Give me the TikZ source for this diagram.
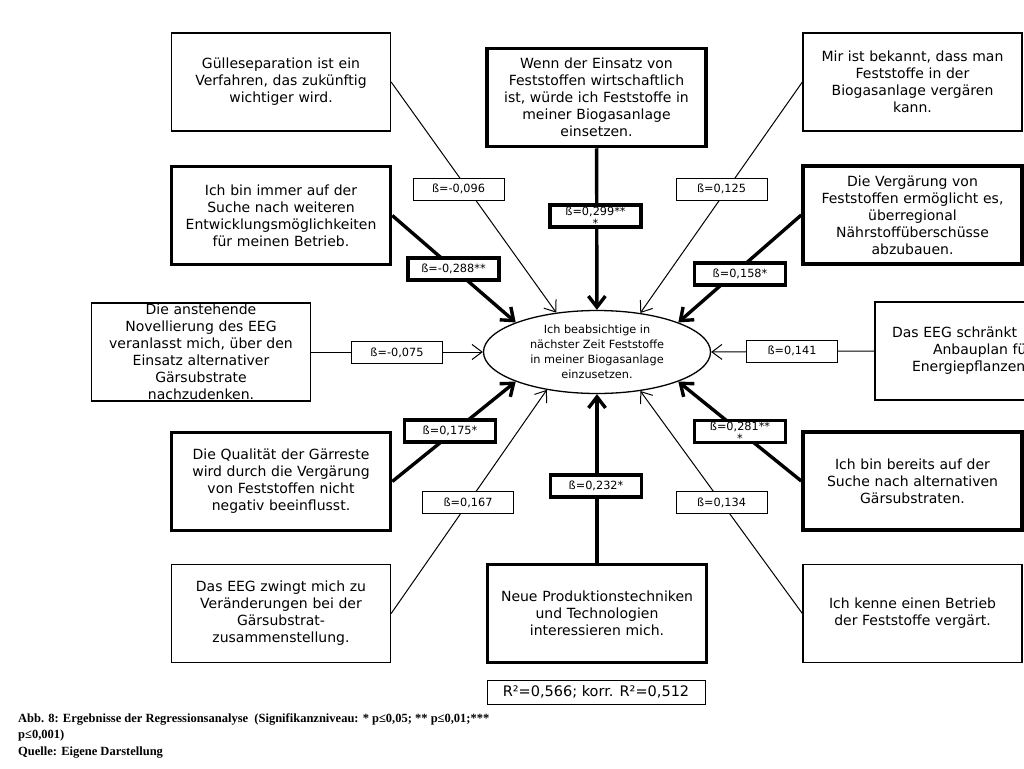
\documentclass[tikz,border=0pt]{standalone}
\usepackage{fontspec}
\setmainfont{DejaVu Sans}
\newfontfamily\captionfont{Liberation Serif}
\usetikzlibrary{shapes.geometric,arrows.meta}

\newcommand{\zweizeilen}[2]{\smash{\lower11pt\vbox{\baselineskip=12pt\halign{\hfil##\hfil\cr#1\cr#2\cr}}}}

\begin{document}
\begin{tikzpicture}[x=1pt,y=-1pt,
  box/.style={shape=rectangle, draw, line width=1.3pt, text width=205pt, inner xsep=7pt, inner ysep=0pt, minimum height=98pt, align=center, font=\fontsize{14}{17}\selectfont},
  boxthick/.style={box, line width=3.5pt},
  beta/.style={shape=rectangle, draw, fill=white, line width=1pt, minimum width=91pt, minimum height=22pt, inner sep=0pt, font=\fontsize{11.3}{13}\selectfont},
  betathick/.style={beta, line width=3.5pt},
  conn/.style={line width=1pt, -{Straight Barb[length=10pt,width=15pt]}},
  connthick/.style={line width=3.4pt, -{Straight Barb[length=11pt,width=17pt]}}]
\useasboundingbox (0,0) rectangle (1024,768);
\clip (0,0) rectangle (1024,768);

\node (Absicht) at (597,352) [shape=ellipse, draw, line width=1.3pt, minimum width=227pt, minimum height=83pt, inner sep=0pt, align=center, font=\fontsize{11.3}{15}\selectfont] {Ich beabsichtige in\\ nächster Zeit Feststoffe\\ in meiner Biogasanlage\\ einzusetzen.};

\node (Guelle) at (281,82) [box] {Gülleseparation ist ein\\ Verfahren, das zukünftig\\ wichtiger wird.};

\node (Wenn) at (596.5,97.5) [boxthick] {Wenn der Einsatz von\\ Feststoffen wirtschaftlich\\ ist, würde ich Feststoffe in\\ meiner Biogasanlage\\ einsetzen.};

\node (Mir) at (912.5,82) [box] {Mir ist bekannt, dass man\\ Feststoffe in der\\ Biogasanlage vergären\\ kann.};

\node (Immer) at (281,215.5) [boxthick] {Ich bin immer auf der\\ Suche nach weiteren\\ Entwicklungsmöglichkeiten\\ für meinen Betrieb.};

\node (Vergaerung) at (912.5,215) [boxthick] {Die Vergärung von\\ Feststoffen ermöglicht es,\\ überregional\\ Nährstoffüberschüsse\\ abzubauen.};

\node (Anstehende) at (201,352) [box] {Die anstehende\\ Novellierung des EEG\\ veranlasst mich, über den\\ Einsatz alternativer\\ Gärsubstrate\\ nachzudenken.};

\node (Schraenkt) at (984.5,351) [box, align=left] {\hspace*{10pt}Das EEG schränkt\\ \hspace*{51pt}Anbauplan fü\\ \hspace*{30pt}Energiepflanzen};

\node (Qualitaet) at (281,481.5) [boxthick] {Die Qualität der Gärreste\\ wird durch die Vergärung\\ von Feststoffen nicht\\ negativ beeinflusst.};

\node (Bereits) at (912.5,481) [boxthick] {Ich bin bereits auf der\\ Suche nach alternativen\\ Gärsubstraten.};

\node (Zwingt) at (281,613.5) [box] {Das EEG zwingt mich zu\\ Veränderungen bei der\\ Gärsubstrat-\\ zusammenstellung.};

\node (Neue) at (597,613.5) [boxthick] {Neue Produktionstechniken\\ und Technologien\\ interessieren mich.};

\node (Kenne) at (912.5,613.5) [box] {Ich kenne einen Betrieb\\ der Feststoffe vergärt.};

\node (Rquadrat) at (596,692) [shape=rectangle, draw, line width=1pt, minimum width=218pt, minimum height=24pt, inner sep=0pt, font=\fontsize{14.5}{17}\selectfont] {R²=0,566; korr. R²=0,512};

\node (Quelle) at (18,713) [anchor=north west, align=left, inner sep=0pt, font=\captionfont\bfseries\fontsize{12.5}{16.5}\selectfont] {Abb. 8: Ergebnisse der Regressionsanalyse\ \ (Signifikanzniveau: * p≤0,05; ** p≤0,01;***\\ p≤0,001)\\ Quelle: Eigene Darstellung};

\path [conn] (Guelle.east) edge (Absicht.136)
  (Mir.west) edge (Absicht.42)
  (Anstehende.east) edge (Absicht.west)
  (Schraenkt.west) edge (Absicht.east)
  (Zwingt.east) edge (Absicht.217)
  (Kenne.west) edge (Absicht.318);

\path [connthick] (Wenn) edge (Absicht)
  (Immer.east) edge (Absicht.160)
  (Vergaerung.west) edge (Absicht.20)
  (Qualitaet.east) edge (Absicht.200)
  (Bereits.west) edge (Absicht.340)
  (Neue) edge (Absicht);

\node (b096) at (458.5,189) [beta] {ß=-0,096};
\node (b299) at (595.5,216) [betathick] {\zweizeilen{ß=0,299**}{*}};
\node (b125) at (721.5,189) [beta] {ß=0,125};
\node (b288) at (453.5,269) [betathick] {ß=-0,288**};
\node (b158) at (740,274) [betathick] {ß=0,158*};
\node (b075) at (397,352.5) [beta] {ß=-0,075};
\node (b141) at (792,351) [beta] {ß=0,141};
\node (b175) at (450,431) [betathick] {ß=0,175*};
\node (b281) at (740,431.5) [betathick] {\zweizeilen{ß=0,281**}{*}};
\node (b167) at (468,502.5) [beta] {ß=0,167};
\node (b232) at (596,486) [betathick] {ß=0,232*};
\node (b134) at (721.5,502.5) [beta] {ß=0,134};
\end{tikzpicture}
\end{document}
